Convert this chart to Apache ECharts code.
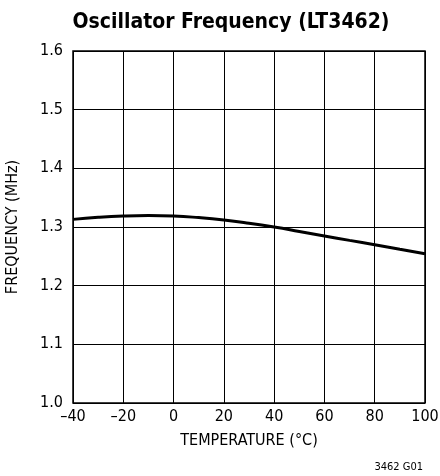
<!DOCTYPE html>
<html><head><meta charset="utf-8">
<script src="https://cdn.jsdelivr.net/npm/echarts@6/dist/echarts.min.js"></script>
<style>html,body{margin:0;padding:0;background:#fff}#c{width:440px;height:476px}</style>
</head><body><div id="c"></div>
<script>
const temperature = [-40, -30, -20, -10, 0, 10, 20, 30, 40, 50, 60, 70, 80, 90, 100];
const frequency = [1.313, 1.3165, 1.3187, 1.3195, 1.3187, 1.316, 1.312, 1.3065, 1.300, 1.2925, 1.2848, 1.2772, 1.2698, 1.262, 1.2545];
const xTicks = [-40, -20, 0, 20, 40, 60, 80, 100];
const yTicks = [1.0, 1.1, 1.2, 1.3, 1.4, 1.5, 1.6];
const FONT = '"Liberation Sans Narrow", "DejaVu Sans Condensed", sans-serif';
const chart = echarts.init(document.getElementById('c'), null, {renderer: 'canvas'});
chart.setOption({
  animation: false,
  title: [{
    text: 'Oscillator Frequency (LT3462)', left: 226, top: 7, textAlign: 'center',
    textStyle: {fontFamily: FONT, fontWeight: 'bold', fontSize: 21, color: '#000'}
  }, {
    text: '3462 G01', right: 12, top: 457,
    textStyle: {fontFamily: FONT, fontWeight: 'normal', fontSize: 11, color: '#000'}
  }],
  grid: {left: 73, right: 15, top: 51, bottom: 73, show: true, borderColor: '#000', borderWidth: 1.5,
    containLabel: false, outerBoundsMode: 'none'},
  xAxis: {
    type: 'value', min: -40, max: 100, interval: 20,
    name: 'TEMPERATURE (°C)', nameLocation: 'middle', nameGap: 30,
    nameTextStyle: {fontFamily: FONT, fontSize: 16, color: '#000'},
    axisLine: {show: false}, axisTick: {show: false},
    axisLabel: {fontFamily: FONT, fontSize: 16, color: '#000', margin: 6,
      formatter: v => xTicks.includes(v) ? String(v).replace('-', '\u2013') : ''},
    splitLine: {show: true, lineStyle: {color: '#000', width: 1}}
  },
  yAxis: {
    type: 'value', min: 1.0, max: 1.6, interval: 0.1,
    name: 'FREQUENCY (MHz)', nameLocation: 'middle', nameGap: 52, nameRotate: 90,
    nameTextStyle: {fontFamily: FONT, fontSize: 16, color: '#000'},
    axisLine: {show: false}, axisTick: {show: false},
    axisLabel: {fontFamily: FONT, fontSize: 16, color: '#000', margin: 10,
      formatter: v => { const t = yTicks.find(y => Math.abs(y - v) < 1e-6); return t !== undefined ? t.toFixed(1) : ''; }},
    splitLine: {show: true, lineStyle: {color: '#000', width: 1}}
  },
  series: [{
    type: 'line', smooth: true, symbol: 'none',
    data: temperature.map((t, i) => [t, frequency[i]]),
    lineStyle: {color: '#000', width: 3}
  }]
});
</script></body></html>
